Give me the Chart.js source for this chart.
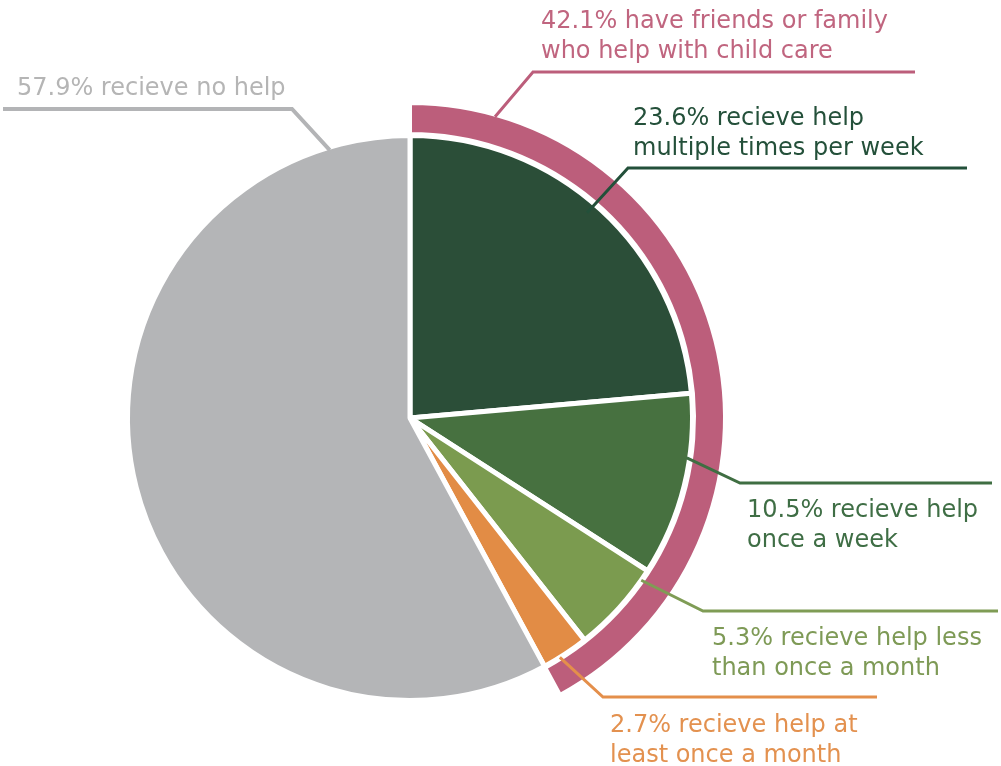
<!DOCTYPE html>
<html>
<head>
<meta charset="utf-8">
<title>Child care help</title>
<script src="https://cdn.jsdelivr.net/npm/chart.js@4.4.1/dist/chart.umd.min.js"></script>
<style>
  html, body { margin: 0; padding: 0; background: #fff; }
  #wrap { position: relative; width: 1001px; height: 766px; }
</style>
</head>
<body>
<div id="wrap"><canvas id="myChart"></canvas></div>
<script>
// slices of the pie, clockwise from the top
const categories = ["multiple times per week", "once a week", "less than once a month", "at least once a month", "no help"];
const shares = [23.6, 10.5, 5.3, 2.7, 57.9];
const sliceColors = ["#2b4e38", "#477140", "#7b9b4f", "#e28c45", "#b4b5b7"];

// outer ring: anyone who gets help vs. nobody
const helpGroups = ["friends or family help", "no help"];
const helpShares = [42.1, 57.9];
const helpColors = ["#bc5e7b", "rgba(0,0,0,0)"];

// callout texts, built from the values above
const calloutLines = [
    [helpShares[0] + "% have friends or family", "who help with child care"],
    [shares[0] + "% recieve help", "multiple times per week"],
    [shares[1] + "% recieve help", "once a week"],
    [shares[2] + "% recieve help less", "than once a month"],
    [shares[3] + "% recieve help at", "least once a month"],
    [shares[4] + "% recieve no help"]
];

// where each callout hooks onto its arc and where its line / text go
const callouts = [
    { ds: 0, idx: 0, along: 0.104, reach: 0.994, elbow: [533, 72], end: [915, 72], tx: 541, ty: 28, line: "#bc5e7b", text: "#c0657f", lw: 3 },
    { ds: 2, idx: 0, along: 0.48, reach: 0.96, elbow: [628, 168], end: [967, 168], tx: 633, ty: 125, line: "#23503a", text: "#24503a", lw: 3 },
    { ds: 2, idx: 1, along: 0.35, reach: 0.99, elbow: [740, 483], end: [992, 483], tx: 747, ty: 517, line: "#3f6e42", text: "#3f6e45", lw: 3 },
    { ds: 2, idx: 2, along: 0.12, reach: 1.0, elbow: [703, 611], end: [998, 611], tx: 712, ty: 645, line: "#7f9c55", text: "#7e9a56", lw: 3 },
    { ds: 2, idx: 3, along: 0.63, reach: 1.0, elbow: [603, 697], end: [877, 697], tx: 610, ty: 732, line: "#e48f4b", text: "#e3914f", lw: 3 },
    { ds: 2, idx: 4, along: 0.92, reach: 0.99, elbow: [292, 109], end: [3, 109], tx: 17, ty: 95, line: "#b3b4b6", text: "#b5b5b5", lw: 4 }
];

const lineHeight = 30;

// draws leader lines and labels on top of the pie
const calloutPlugin = {
    id: "callouts",
    afterDraw(chart) {
        const ctx = chart.ctx;
        ctx.save();
        ctx.font = "24px 'DejaVu Sans'";
        ctx.textBaseline = "alphabetic";
        ctx.lineJoin = "miter";
        ctx.lineCap = "butt";
        callouts.forEach((c, i) => {
            const arc = chart.getDatasetMeta(c.ds).data[c.idx];
            const p = arc.getProps(["x", "y", "startAngle", "endAngle", "outerRadius"], true);
            const a = p.startAngle + c.along * (p.endAngle - p.startAngle);
            const r = p.outerRadius * c.reach;
            ctx.strokeStyle = c.line;
            ctx.lineWidth = c.lw;
            ctx.beginPath();
            ctx.moveTo(p.x + Math.cos(a) * r, p.y + Math.sin(a) * r);
            ctx.lineTo(c.elbow[0], c.elbow[1]);
            ctx.lineTo(c.end[0], c.end[1]);
            ctx.stroke();

            ctx.fillStyle = c.text;
            calloutLines[i].forEach((t, j) => {
                ctx.fillText(t, c.tx, c.ty + j * lineHeight);
            });
        });
        ctx.restore();
    }
};

const ctx = document.getElementById("myChart").getContext("2d");

new Chart(ctx, {
    type: "pie",
    data: {
        labels: categories,
        datasets: [
            {
                label: "help",
                data: helpShares,
                backgroundColor: helpColors,
                borderColor: "#ffffff",
                borderWidth: [4, 0],
                hoverBorderWidth: [4, 0],
                weight: 31
            },
            {
                label: "gap",
                data: [1],
                backgroundColor: ["rgba(0,0,0,0)"],
                borderWidth: 0,
                hoverBorderWidth: 0,
                weight: 1.5
            },
            {
                label: "frequency",
                data: shares,
                backgroundColor: sliceColors,
                borderColor: "#ffffff",
                borderWidth: 5,
                hoverBorderWidth: 5,
                weight: 282.5
            }
        ]
    },
    options: {
        responsive: true,
        maintainAspectRatio: false,
        animation: false,
        events: [],
        radius: 315,
        layout: {
            padding: { left: 95, right: 276, top: 103, bottom: 33 }
        },
        plugins: {
            legend: { display: false },
            tooltip: { enabled: false }
        }
    },
    plugins: [calloutPlugin]
});
</script>
</body>
</html>
